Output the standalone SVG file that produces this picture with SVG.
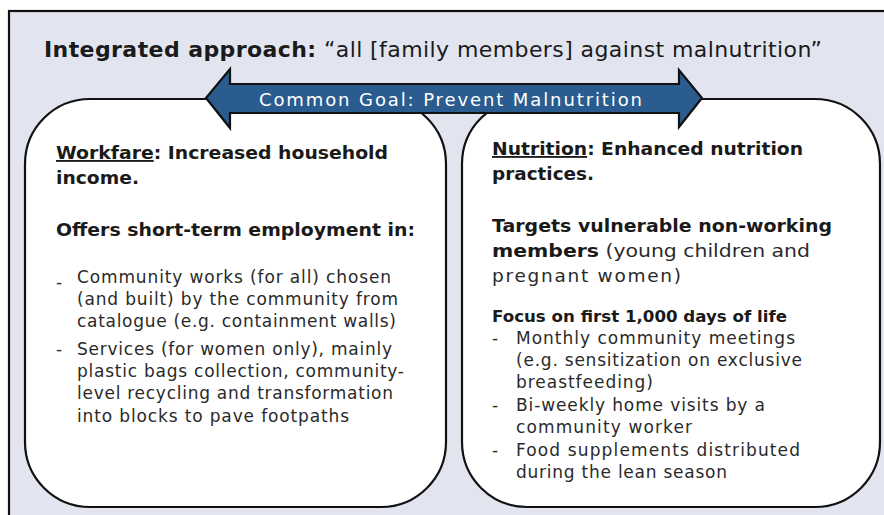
<svg xmlns="http://www.w3.org/2000/svg" width="884" height="515" viewBox="0 0 884 515">
  <style>
    text { font-family: "DejaVu Sans", "Liberation Sans", sans-serif; fill: #1a1a1a; }
    .h { font-size: 18.5px; font-weight: bold; }
    .b { font-size: 17px; font-weight: normal; fill: #2a2a2a; }
    .f { font-size: 15.5px; font-weight: bold; }
    .box { fill: #ffffff; stroke: #111; stroke-width: 2.2; }
  </style>
  <rect x="9" y="11" width="900" height="520" fill="#e2e5ef" stroke="#111" stroke-width="2.2"/>
  <text x="44" y="57" font-size="22" textLength="778" lengthAdjust="spacing"><tspan font-weight="bold">Integrated approach:</tspan> “all [family members] against malnutrition”</text>

  <g id="workfare">
    <rect class="box" x="25" y="99" width="421" height="408" rx="65" ry="65"/>
    <text class="h" x="56" y="159" textLength="332" lengthAdjust="spacingAndGlyphs"><tspan text-decoration="underline">Workfare</tspan>: Increased household</text>
    <text class="h" x="56" y="184" textLength="83" lengthAdjust="spacingAndGlyphs">income.</text>
    <text class="h" x="56" y="236" textLength="359" lengthAdjust="spacingAndGlyphs">Offers short-term employment in:</text>
    <text class="b" x="56" y="288">-</text>
    <text class="b" x="77" y="283" textLength="314" lengthAdjust="spacing">Community works (for all) chosen</text>
    <text class="b" x="77" y="305" textLength="321" lengthAdjust="spacing">(and built) by the community from</text>
    <text class="b" x="77" y="327" textLength="319" lengthAdjust="spacing">catalogue (e.g. containment walls)</text>
    <text class="b" x="56" y="355">-</text>
    <text class="b" x="77" y="355" textLength="315" lengthAdjust="spacing">Services (for women only), mainly</text>
    <text class="b" x="77" y="377" textLength="327" lengthAdjust="spacing">plastic bags collection, community-</text>
    <text class="b" x="77" y="399" textLength="316" lengthAdjust="spacing">level recycling and transformation</text>
    <text class="b" x="77" y="422" textLength="272" lengthAdjust="spacing">into blocks to pave footpaths</text>
  </g>

  <g id="nutrition">
    <rect class="box" x="462" y="99" width="418" height="408" rx="65" ry="65"/>
    <text class="h" x="492" y="155" textLength="311" lengthAdjust="spacingAndGlyphs"><tspan text-decoration="underline">Nutrition</tspan>: Enhanced nutrition</text>
    <text class="h" x="492" y="180" textLength="102" lengthAdjust="spacingAndGlyphs">practices.</text>
    <text class="h" x="492" y="232" textLength="340" lengthAdjust="spacingAndGlyphs">Targets vulnerable non-working</text>
    <text x="492" y="257" font-size="18.5" textLength="318" lengthAdjust="spacingAndGlyphs"><tspan font-weight="bold">members</tspan><tspan style="fill:#2a2a2a"> (young children and</tspan></text>
    <text x="492" y="282" font-size="18.5" textLength="189" lengthAdjust="spacing" style="fill:#2a2a2a">pregnant women)</text>
    <text class="f" x="492" y="322" textLength="295" lengthAdjust="spacingAndGlyphs">Focus on first 1,000 days of life</text>
    <text class="b" x="492" y="344">-</text>
    <text class="b" x="516" y="344" textLength="279" lengthAdjust="spacing">Monthly community meetings</text>
    <text class="b" x="516" y="366" textLength="286" lengthAdjust="spacing">(e.g. sensitization on exclusive</text>
    <text class="b" x="516" y="388" textLength="137" lengthAdjust="spacing">breastfeeding)</text>
    <text class="b" x="492" y="411">-</text>
    <text class="b" x="516" y="411" textLength="249" lengthAdjust="spacing">Bi-weekly home visits by a</text>
    <text class="b" x="516" y="433" textLength="176" lengthAdjust="spacing">community worker</text>
    <text class="b" x="492" y="456">-</text>
    <text class="b" x="516" y="456" textLength="284" lengthAdjust="spacing">Food supplements distributed</text>
    <text class="b" x="516" y="478" textLength="211" lengthAdjust="spacing">during the lean season</text>
  </g>

  <g id="connectors">
    <path d="M206,98 L230,69 L230,84 L679,84 L679,70 L702,98 L679,127 L679,113 L230,113 L230,128 Z" fill="#2a5c8f" stroke="#111" stroke-width="2.2" stroke-linejoin="miter"/>
    <text x="259" y="105.5" font-size="18" textLength="383" lengthAdjust="spacing" style="fill:#ffffff">Common Goal: Prevent Malnutrition</text>
  </g>
</svg>
